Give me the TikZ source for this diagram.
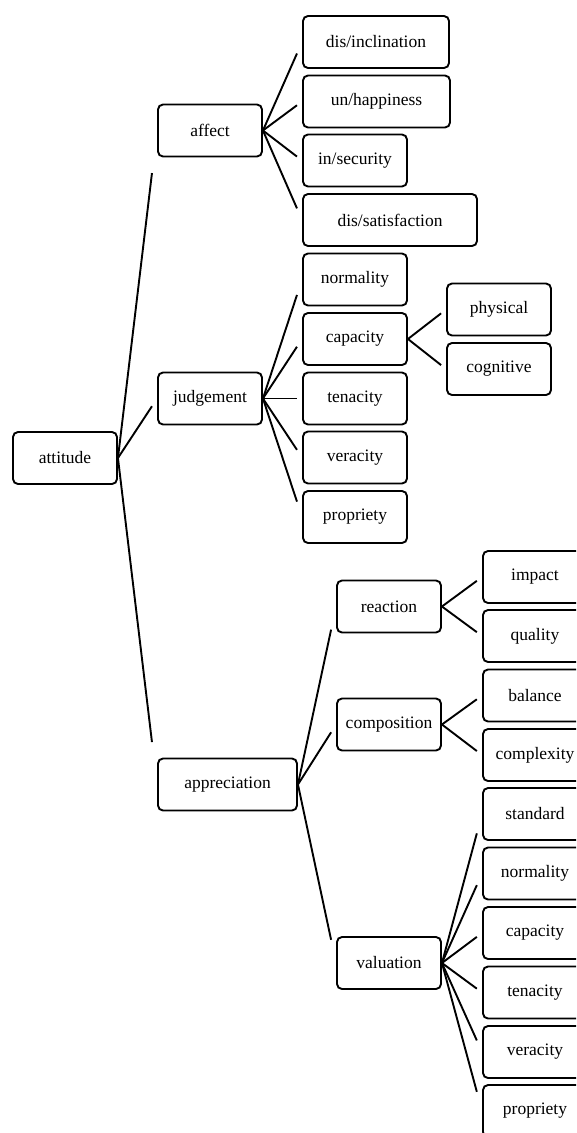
\documentclass[tikz,border=0pt]{standalone}
\usepackage{fontspec}
\setmainfont{Liberation Serif}
\usetikzlibrary{calc}
\tikzset{
  box/.style={draw, rounded corners=5pt, line width=1.9pt, minimum height=52pt,
    minimum width=104pt, inner sep=0pt, font=\fontsize{17.5}{20}\selectfont},
  branch/.style={to path={-- ($(\tikztostart)!0.87!(\tikztotarget)$)}},
}
\begin{document}
\begin{tikzpicture}[x=1pt, y=-1pt, line width=1.9pt]
\useasboundingbox (0,0) rectangle (576,1133);
\clip (0,0) rectangle (576,1133);
\node[box] (attitude) at (65,458) {attitude};
% affect
\node[box] (affect) at (210,130.5) {affect};
\draw (attitude.east) to[branch] (affect.west);
\node[box, minimum width=146pt] (incl) at (376,42) {dis/inclination};
\draw (affect.east) to[branch] (incl.west);
\node[box, minimum width=147pt] (happ) at (376.5,101.5) {un/happiness};
\draw (affect.east) to[branch] (happ.west);
\node[box] (secu) at (355,160.5) {in/security};
\draw (affect.east) to[branch] (secu.west);
\node[box, minimum width=174pt] (sati) at (390,220) {dis/satisfaction};
\draw (affect.east) to[branch] (sati.west);
% judgement
\node[box] (judgement) at (210,398.5) {judgement};
\draw (attitude.east) to[branch] (judgement.west);
\node[box] (jnorm) at (355,279.5) {normality};
\draw (judgement.east) to[branch] (jnorm.west);
\node[box] (jcapa) at (355,339) {capacity};
\draw (judgement.east) to[branch] (jcapa.west);
\node[box] (jtena) at (355,398.5) {tenacity};
\draw (judgement.east) to[branch] (jtena.west);
\node[box] (jvera) at (355,457.5) {veracity};
\draw (judgement.east) to[branch] (jvera.west);
\node[box] (jprop) at (355,517) {propriety};
\draw (judgement.east) to[branch] (jprop.west);
\node[box] (phys) at (499,309.5) {physical};
\draw (jcapa.east) to[branch] (phys.west);
\node[box] (cogn) at (499,369) {cognitive};
\draw (jcapa.east) to[branch] (cogn.west);
% appreciation
\node[box, minimum width=139pt] (appreciation) at (227.5,784.5) {appreciation};
\draw (attitude.east) to[branch] (appreciation.west);
\node[box] (reaction) at (389,606.5) {reaction};
\draw (appreciation.east) to[branch] (reaction.west);
\node[box] (impact) at (535,577) {impact};
\draw (reaction.east) to[branch] (impact.west);
\node[box] (quality) at (535,636) {quality};
\draw (reaction.east) to[branch] (quality.west);
\node[box] (composition) at (389,724.5) {composition};
\draw (appreciation.east) to[branch] (composition.west);
\node[box] (balance) at (535,695.5) {balance};
\draw (composition.east) to[branch] (balance.west);
\node[box] (complexity) at (535,755) {complexity};
\draw (composition.east) to[branch] (complexity.west);
\node[box] (valuation) at (389,963) {valuation};
\draw (appreciation.east) to[branch] (valuation.west);
\node[box] (vstan) at (535,814) {standard};
\draw (valuation.east) to[branch] (vstan.west);
\node[box] (vnorm) at (535,873.5) {normality};
\draw (valuation.east) to[branch] (vnorm.west);
\node[box] (vcapa) at (535,933) {capacity};
\draw (valuation.east) to[branch] (vcapa.west);
\node[box] (vtena) at (535,992.5) {tenacity};
\draw (valuation.east) to[branch] (vtena.west);
\node[box] (vvera) at (535,1052) {veracity};
\draw (valuation.east) to[branch] (vvera.west);
\node[box] (vprop) at (535,1111) {propriety};
\draw (valuation.east) to[branch] (vprop.west);
\end{tikzpicture}
\end{document}
